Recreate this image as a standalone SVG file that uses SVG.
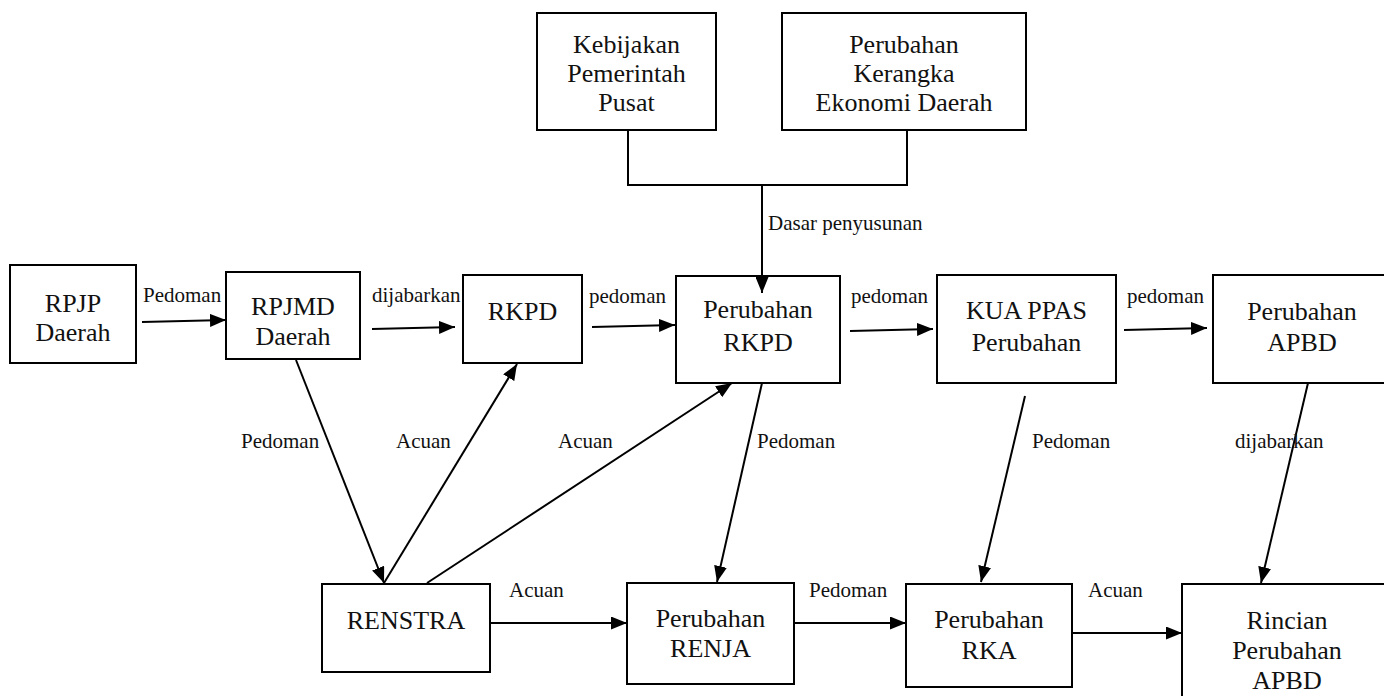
<svg xmlns="http://www.w3.org/2000/svg" width="1384" height="696" viewBox="0 0 1384 696">
<style>
.box{fill:#fff;stroke:#000;stroke-width:2}
.nt{font-family:'Liberation Serif','Times New Roman','DejaVu Serif',serif;font-size:26px;fill:#111;text-anchor:middle}
.lb{font-family:'Liberation Serif','Times New Roman','DejaVu Serif',serif;font-size:21px;fill:#111}
.ln{fill:none;stroke:#000;stroke-width:2}
</style>
<defs>
<marker id="ah" markerUnits="userSpaceOnUse" markerWidth="16" markerHeight="13" refX="16" refY="6.5" orient="auto">
<path d="M0,0 L16,6.5 L0,13 z" fill="#000"/>
</marker>
</defs>
<rect width="1384" height="696" fill="#fff"/>
<g id="kebijakan">
<rect class="box" x="537" y="13" width="179" height="117"/>
<text class="nt" x="626.5" y="53">Kebijakan</text>
<text class="nt" x="626.5" y="82">Pemerintah</text>
<text class="nt" x="626.5" y="111">Pusat</text>
</g>
<g id="kerangka">
<rect class="box" x="782" y="13" width="244" height="117"/>
<text class="nt" x="904" y="53">Perubahan</text>
<text class="nt" x="904" y="82">Kerangka</text>
<text class="nt" x="904" y="111">Ekonomi Daerah</text>
</g>
<g id="rpjp">
<rect class="box" x="10" y="265" width="126" height="98"/>
<text class="nt" x="73" y="312">RPJP</text>
<text class="nt" x="73" y="341">Daerah</text>
</g>
<g id="rpjmd">
<rect class="box" x="226" y="272" width="134" height="87"/>
<text class="nt" x="293" y="315">RPJMD</text>
<text class="nt" x="293" y="345">Daerah</text>
</g>
<g id="rkpd">
<rect class="box" x="463" y="275" width="119" height="88"/>
<text class="nt" x="522.5" y="320">RKPD</text>
</g>
<g id="perubahan-rkpd">
<rect class="box" x="676" y="276" width="164" height="107"/>
<text class="nt" x="758" y="318">Perubahan</text>
<text class="nt" x="758" y="351">RKPD</text>
</g>
<g id="kua-ppas">
<rect class="box" x="937" y="275" width="179" height="108"/>
<text class="nt" x="1026.5" y="319">KUA PPAS</text>
<text class="nt" x="1026.5" y="351">Perubahan</text>
</g>
<g id="perubahan-apbd">
<rect class="box" x="1213" y="275" width="179" height="108"/>
<text class="nt" x="1302" y="320">Perubahan</text>
<text class="nt" x="1302" y="351">APBD</text>
</g>
<g id="renstra">
<rect class="box" x="322" y="584" width="168" height="88"/>
<text class="nt" x="406" y="629">RENSTRA</text>
</g>
<g id="perubahan-renja">
<rect class="box" x="627" y="583" width="167" height="101"/>
<text class="nt" x="710.5" y="627">Perubahan</text>
<text class="nt" x="710.5" y="657">RENJA</text>
</g>
<g id="perubahan-rka">
<rect class="box" x="906" y="584" width="166" height="103"/>
<text class="nt" x="989" y="628">Perubahan</text>
<text class="nt" x="989" y="659">RKA</text>
</g>
<g id="rincian">
<rect class="box" x="1182" y="584" width="210" height="120"/>
<text class="nt" x="1287" y="629">Rincian</text>
<text class="nt" x="1287" y="659">Perubahan</text>
<text class="nt" x="1287" y="689">APBD</text>
</g>
<g id="connectors">
<path class="ln" d="M628,130 V185 H907 V130"/>
<line class="ln" x1="762" y1="185" x2="762" y2="293" marker-end="url(#ah)"/>
<line class="ln" x1="142" y1="322" x2="226" y2="320" marker-end="url(#ah)"/>
<line class="ln" x1="372" y1="329" x2="455" y2="327" marker-end="url(#ah)"/>
<line class="ln" x1="592" y1="327" x2="675" y2="325" marker-end="url(#ah)"/>
<line class="ln" x1="850" y1="331" x2="933" y2="329" marker-end="url(#ah)"/>
<line class="ln" x1="1124" y1="330" x2="1207" y2="328" marker-end="url(#ah)"/>
<line class="ln" x1="296" y1="360" x2="384" y2="583" marker-end="url(#ah)"/>
<line class="ln" x1="384" y1="583" x2="517" y2="364" marker-end="url(#ah)"/>
<line class="ln" x1="427" y1="583" x2="732" y2="383" marker-end="url(#ah)"/>
<line class="ln" x1="762" y1="383" x2="717" y2="582" marker-end="url(#ah)"/>
<line class="ln" x1="1025" y1="396" x2="981" y2="582" marker-end="url(#ah)"/>
<line class="ln" x1="1308" y1="383" x2="1261" y2="583" marker-end="url(#ah)"/>
<line class="ln" x1="490" y1="623" x2="627" y2="623" marker-end="url(#ah)"/>
<line class="ln" x1="794" y1="623" x2="906" y2="623" marker-end="url(#ah)"/>
<line class="ln" x1="1072" y1="633" x2="1182" y2="633" marker-end="url(#ah)"/>
<text class="lb" x="768" y="230">Dasar penyusunan</text>
<text class="lb" x="143" y="302">Pedoman</text>
<text class="lb" x="372" y="302">dijabarkan</text>
<text class="lb" x="589" y="303">pedoman</text>
<text class="lb" x="851" y="303">pedoman</text>
<text class="lb" x="1127" y="303">pedoman</text>
<text class="lb" x="241" y="448">Pedoman</text>
<text class="lb" x="396" y="448">Acuan</text>
<text class="lb" x="558" y="448">Acuan</text>
<text class="lb" x="757" y="448">Pedoman</text>
<text class="lb" x="1032" y="448">Pedoman</text>
<text class="lb" x="1235" y="448">dijabarkan</text>
<text class="lb" x="509" y="597">Acuan</text>
<text class="lb" x="809" y="597">Pedoman</text>
<text class="lb" x="1088" y="597">Acuan</text>
</g>
</svg>
